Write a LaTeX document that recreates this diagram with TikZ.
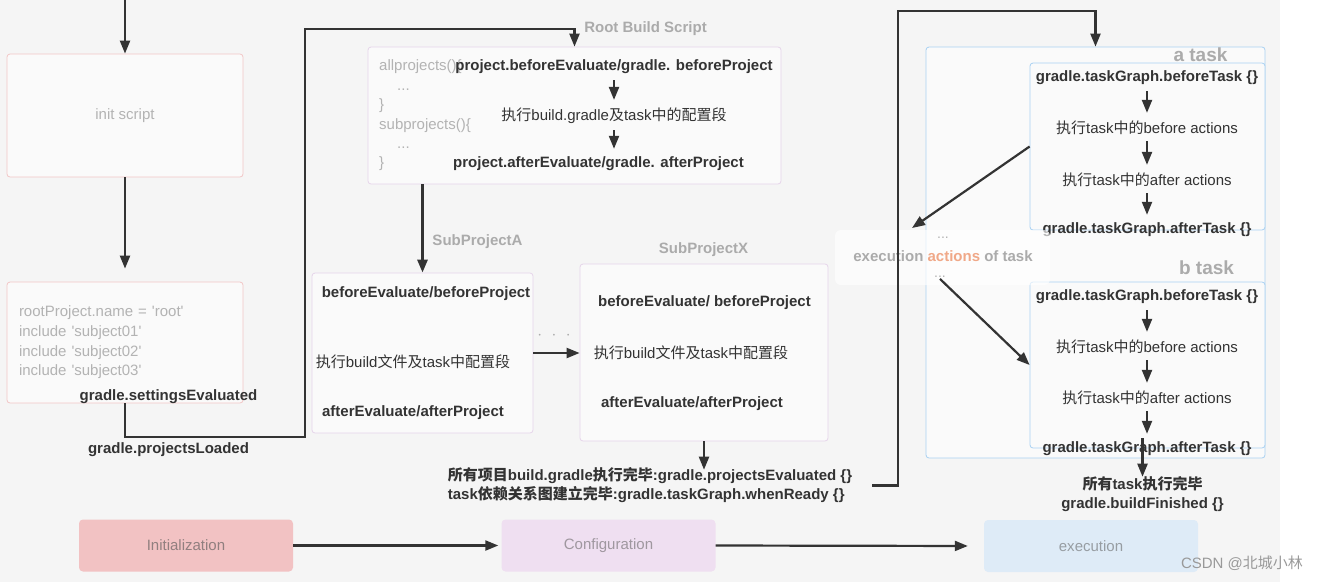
\documentclass[tikz,border=0pt]{standalone}
\usepackage{fontspec}
\setmainfont{Liberation Sans}
\newfontfamily\cjk{Noto Sans CJK SC}
\usetikzlibrary{arrows.meta,positioning}

\newcommand\zh[1]{{\cjk #1}}

\definecolor{bgGray}{HTML}{F5F5F5}
\definecolor{boxFill}{HTML}{FAFAFA}
\definecolor{initEdge}{HTML}{F2C6C6}
\definecolor{confEdge}{HTML}{E6D5EA}
\definecolor{execEdge}{HTML}{A9D1F2}
\definecolor{inkDark}{HTML}{333333}
\definecolor{codeGray}{HTML}{B3B3B3}
\definecolor{tagGray}{HTML}{ABABAB}
\definecolor{initPhaseFill}{HTML}{F2C2C3}
\definecolor{confPhaseFill}{HTML}{EFDFF1}
\definecolor{execPhaseFill}{HTML}{DEEBF7}
\definecolor{actOrange}{HTML}{F0A888}

\begin{document}
\begin{tikzpicture}[x=1pt, y=-1pt, font=\fontsize{15}{19.5}\selectfont]
        \tikzstyle{box} = [draw, rounded corners=3pt, fill=boxFill, line width=0.8pt, inner sep=0pt]
        \tikzstyle{hook} = [font=\fontsize{15}{19}\selectfont\bfseries, text=inkDark, inner sep=2pt]
        \tikzstyle{plain} = [text=inkDark, inner sep=2pt]
        \tikzstyle{tag} = [font=\fontsize{15}{19}\selectfont\bfseries, text=tagGray, inner sep=0pt]
        \tikzstyle{code} = [text=codeGray, align=left, inner sep=0pt]
        \tikzstyle{phase} = [rounded corners=4pt, minimum width=214pt, minimum height=52pt]
        \tikzstyle{line} = [draw=inkDark, line width=2.2pt, -{Triangle[length=13pt,width=10pt]}]
        \tikzstyle{flow} = [line, shorten <=4pt, shorten >=6pt]

        \useasboundingbox (0,0) rectangle (1327,582);
        \fill[bgGray] (0,0) rectangle (1280,582);

        % initialization
        \node [box, draw=initEdge, minimum width=236pt, minimum height=123pt, text=codeGray] (init) at (125,115.5) {init script};
        \node [box, draw=initEdge, minimum width=236pt, minimum height=121pt, text width=212pt, align=left, text=codeGray, font=\fontsize{15}{19.7}\selectfont] (settings) at (125,342.5)
              {rootProject.name = \textquotesingle root\textquotesingle\\ include \textquotesingle subject01\textquotesingle\\ include \textquotesingle subject02\textquotesingle\\ include \textquotesingle subject03\textquotesingle};
        \node [hook] (setEval) at (168.5,397) {gradle.settingsEvaluated};
        \node [hook] (projLoaded) at (168.5,450) {gradle.projectsLoaded};

        % configuration
        \node [tag] (rootTag) at (645.5,29) {Root Build Script};
        \node [box, draw=confEdge, minimum width=413pt, minimum height=137pt] (root) at (574.5,115.5) {};
        \node [code, anchor=west, font=\fontsize{15}{19.4}\selectfont] (rootCode) at (379,115.5)
              {allprojects()\{\\ \hspace{18pt}...\\ \}\\ subprojects()\{\\ \hspace{18pt}...\\ \}};
        \node [hook] (rBefore) at (614,67) {project.beforeEvaluate/gradle. beforeProject};
        \node [plain] (rConf) at (614,116) {\zh{执行}build.gradle\zh{及}task\zh{中的配置段}};
        \node [hook] (rAfter) at (598.5,164) {project.afterEvaluate/gradle. afterProject};

        \node [tag] (subATag) at (477.5,242) {SubProjectA};
        \node [box, draw=confEdge, minimum width=221pt, minimum height=160pt] (subA) at (422.5,353) {};
        \node [hook] (aBefore) at (426,294) {beforeEvaluate/beforeProject};
        \node [plain] (aConf) at (413,362) {\zh{执行}build\zh{文件及}task\zh{中配置段}};
        \node [hook] (aAfter) at (413,413) {afterEvaluate/afterProject};

        \node [text=tagGray, font=\fontsize{17}{17}\selectfont\bfseries] (more) at (554,336) {$\cdot$\ \ $\cdot$\ \ $\cdot$};

        \node [tag] (subXTag) at (703.5,250) {SubProjectX};
        \node [box, draw=confEdge, minimum width=248pt, minimum height=177pt] (subX) at (704,352.5) {};
        \node [hook] (xBefore) at (704.5,303) {beforeEvaluate/ beforeProject};
        \node [plain] (xConf) at (691,353) {\zh{执行}build\zh{文件及}task\zh{中配置段}};
        \node [hook] (xAfter) at (692,404) {afterEvaluate/afterProject};

        \node [hook, align=left, inner sep=0pt] (evalDone) at (650,485.5)
              {\zh{所有项目}build.gradle\zh{执行完毕}:gradle.projectsEvaluated \{\}\\ task\zh{依赖关系图建立完毕}:gradle.taskGraph.whenReady \{\}};

        % execution
        \node [box, draw=execEdge, minimum width=339pt, minimum height=411pt] (exec) at (1095.5,252.5) {};
        \node [tag, font=\fontsize{19}{19}\selectfont\bfseries] (aTag) at (1200.5,55) {a task};
        \node [box, draw=execEdge, minimum width=235pt, minimum height=167pt] (aTask) at (1147.5,146.5) {};
        \node [hook] (aTaskBefore) at (1147,78) {gradle.taskGraph.beforeTask \{\}};
        \node [plain] (aTaskAct1) at (1147,128) {\zh{执行}task\zh{中的}before actions};
        \node [plain] (aTaskAct2) at (1147,180) {\zh{执行}task\zh{中的}after actions};
        \node [hook] (aTaskAfter) at (1147,230) {gradle.taskGraph.afterTask \{\}};

        \node [tag, font=\fontsize{19}{19}\selectfont\bfseries] (bTag) at (1206.5,268) {b task};
        \node [box, draw=execEdge, minimum width=235pt, minimum height=166pt] (bTask) at (1147.5,365) {};
        \node [hook] (bTaskBefore) at (1147,297) {gradle.taskGraph.beforeTask \{\}};
        \node [plain] (bTaskAct1) at (1147,347) {\zh{执行}task\zh{中的}before actions};
        \node [plain] (bTaskAct2) at (1147,398) {\zh{执行}task\zh{中的}after actions};
        \node [hook] (bTaskAfter) at (1147,449) {gradle.taskGraph.afterTask \{\}};

        \node [hook, align=center, inner sep=0pt] (buildDone) at (1142.5,494.5) {\zh{所有}task\zh{执行完毕}\\ gradle.buildFinished \{\}};

        % actions overlay
        \node [fill=white, fill opacity=0.65, rounded corners=6pt, minimum width=215pt, minimum height=55pt] (actBox) at (942.5,257.5) {};
        \node [text=codeGray, font=\fontsize{14}{14}\selectfont, inner sep=1pt] (dotsTop) at (943,238) {...};
        \node [tag] (actText) at (943,256) {execution \textcolor{actOrange}{actions} of task};
        \node [text=codeGray, font=\fontsize{14}{14}\selectfont, inner sep=1pt] (dotsBot) at (940,277) {...};

        % phases
        \node [phase, fill=initPhaseFill, text=black!35!initPhaseFill!60!gray] (initPhase) at (186,545.5) {Initialization};
        \node [phase, fill=confPhaseFill, text=black!25!confPhaseFill!60!gray] (confPhase) at (608.5,545.5) {Configuration};
        \node [phase, fill=execPhaseFill, text=black!25!execPhaseFill!60!gray] (execPhase) at (1091,546) {execution};
        \node [text=black!40, inner sep=0pt] (mark) at (1242,563) {CSDN @\zh{北城小林}};

        % connectors
        \coordinate (top) at (125,0);
        \coordinate (elbowA) at (305,437);
        \coordinate (elbowB) at (898,11);
        \coordinate (actIn) at (912,228);

        \path [line] (top) -- (init.north);
        \path [line, shorten >=13pt] (init.south) -- (settings.north);
        \draw [line] (settings.south) |- (elbowA) |- (rootTag.west -| root.north) -- (root.north);

        \path [flow] (rBefore.south -| rConf.north) -- (rConf.north);
        \path [flow] (rConf.south) -- (rConf.south |- rAfter.north);
        \path [line, line width=2.8pt] (subA.north |- root.south) -- (subA.north);
        \path [line] (subA.east) -- (subA.east -| subX.west);
        \path [line, shorten >=-2pt] (subX.south) -- (subX.south |- evalDone.north);
        \draw [line] ([xshift=20pt]evalDone.east) -| (elbowB) -| (exec.north);

        \path [flow] (aTaskBefore) -- (aTaskAct1);
        \path [flow] (aTaskAct1) -- (aTaskAct2);
        \path [flow] (aTaskAct2) -- (aTaskAfter);
        \path [flow] (bTaskBefore) -- (bTaskAct1);
        \path [flow] (bTaskAct1) -- (bTaskAct2);
        \path [flow] (bTaskAct2) -- (bTaskAfter);
        \path [line, shorten <=-10pt] (bTask.south -| buildDone.north) -- (buildDone.north);

        \path [line] (aTask.west) -- (actIn);
        \path [line] (dotsBot.south) -- (bTask.west);

        \path [line, shorten >=3pt] (initPhase.east) -- (confPhase.west);
        \path [line, shorten >=16pt] (confPhase.east) -- (execPhase.west);
    \end{tikzpicture}
\end{document}
